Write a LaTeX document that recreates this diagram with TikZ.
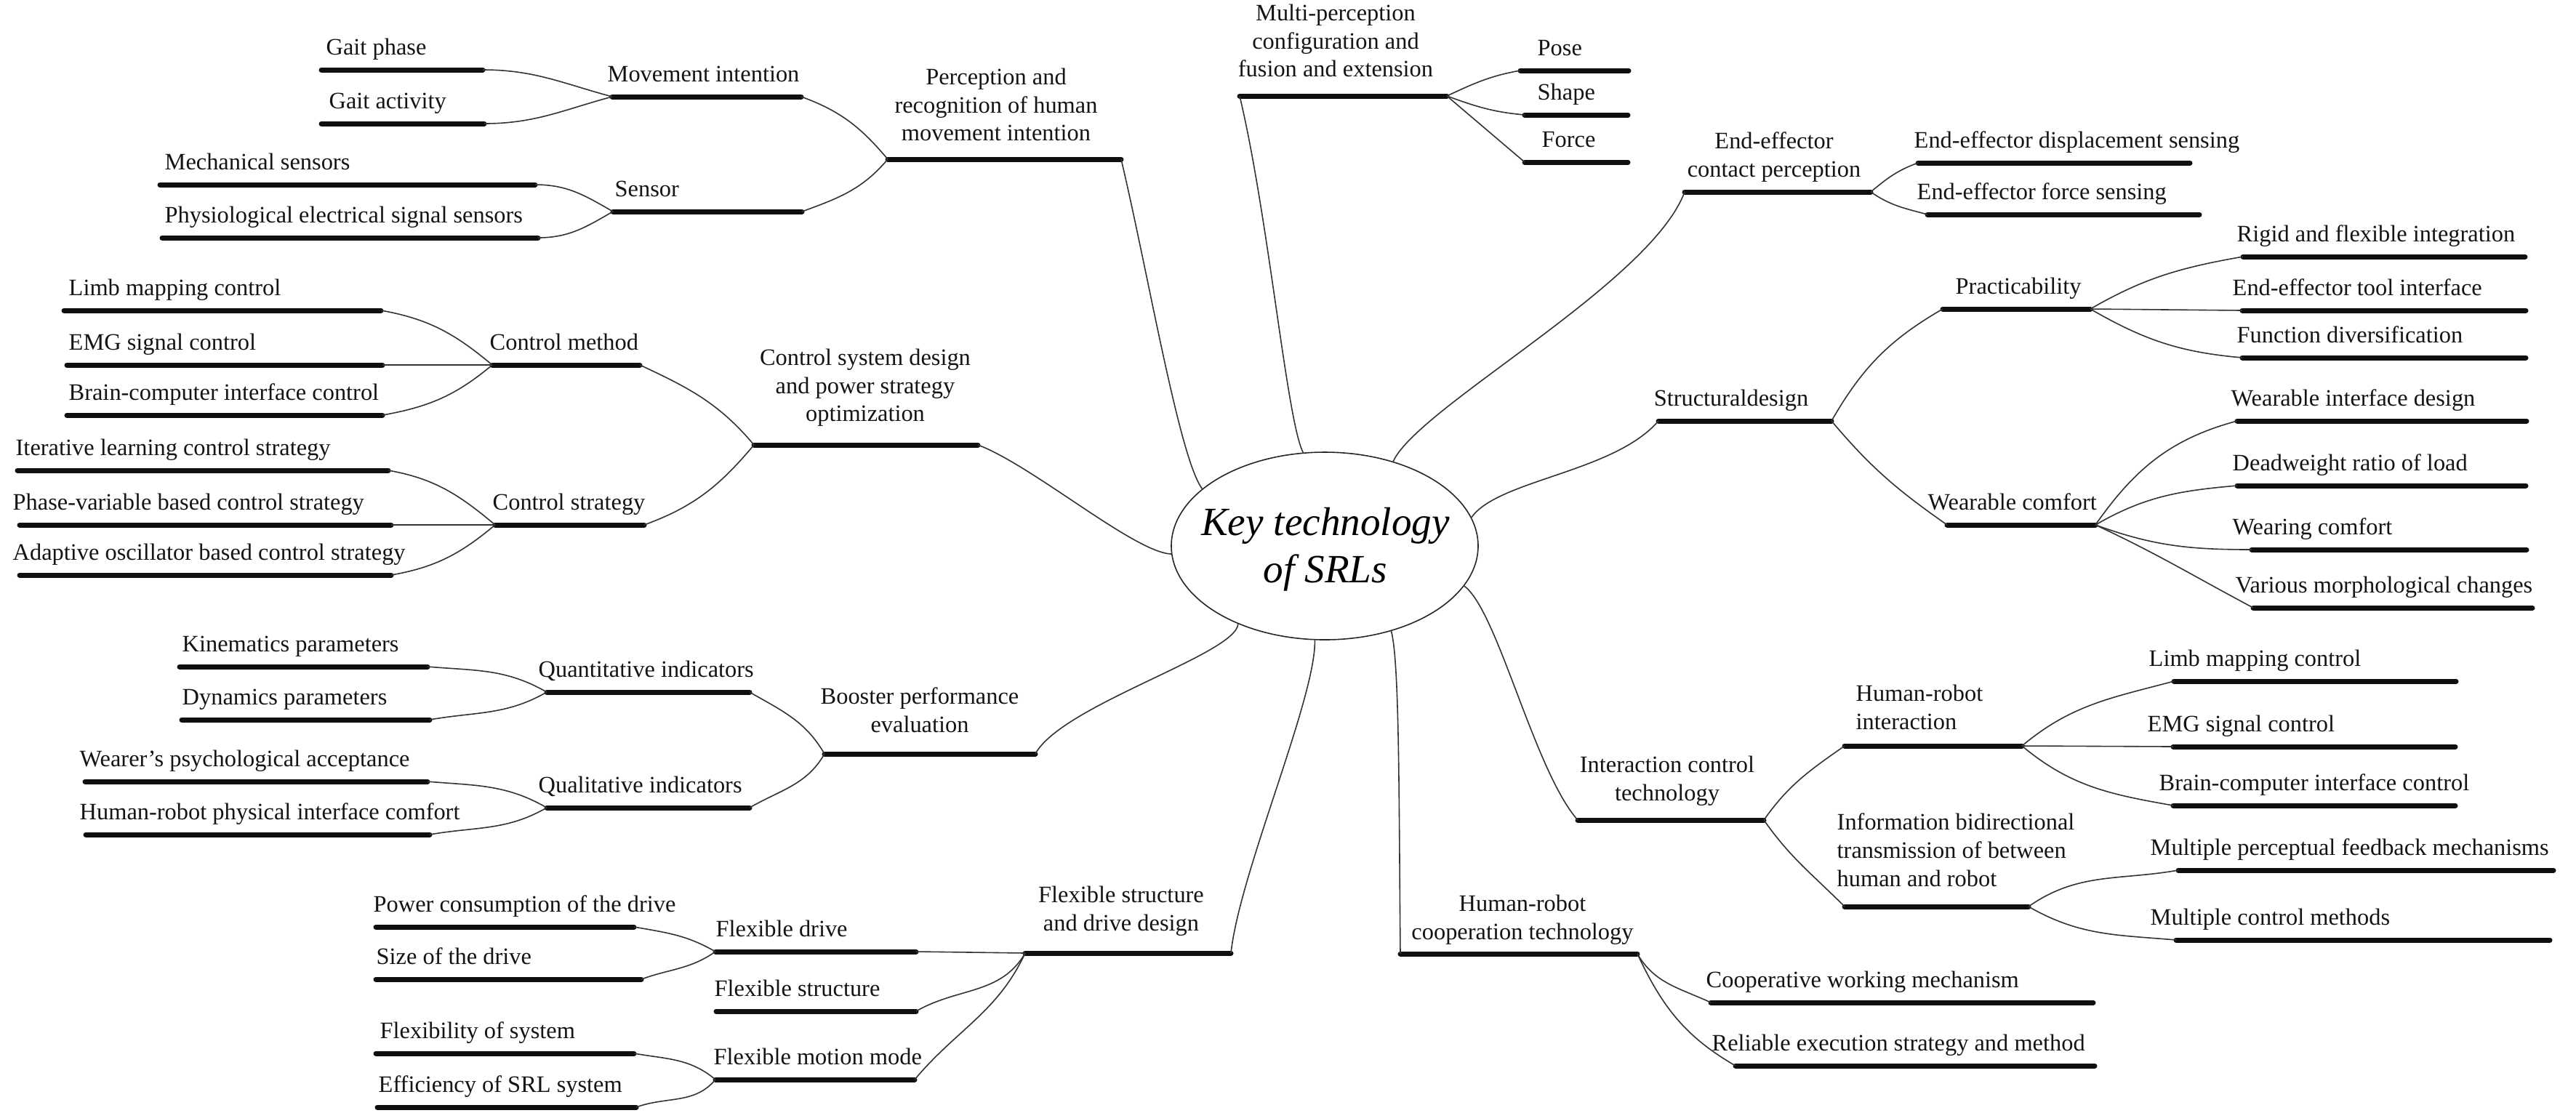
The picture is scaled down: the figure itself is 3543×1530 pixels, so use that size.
\documentclass[tikz,border=0pt]{standalone}
\usepackage{fontspec}
\setmainfont{Liberation Serif}
\usetikzlibrary{shapes.geometric}
\tikzset{
  barline/.style={line width=0.7mm, line cap=round, draw=black!94},
  conn/.style={line width=0.16mm, draw=black!80},
  lbl/.style={inner sep=0pt, font=\fontsize{9.22}{11.06}\selectfont, text=black!92},
  lblc/.style={lbl, align=center, anchor=north},
  lbll/.style={lbl, align=left, anchor=north west},
}
\newcommand\mybar[4]{\coordinate (#1-l) at (#2,-#4); \coordinate (#1-r) at (#3,-#4); \draw[barline] (#1-l) -- (#1-r);}
\newcommand\lab[4]{\node[lbl, anchor=base west] (#1) at (#2,-#3) {#4};}
\begin{document}
\begin{tikzpicture}[x=0.1mm,y=0.1mm]
\useasboundingbox (0,0) rectangle (3543,-1530);

% ---------- centre ----------
\node[draw=black!85, line width=0.16mm, ellipse, minimum width=42.2mm, minimum height=25.8mm, inner sep=0pt] (core) at (1822,-751) {};
\node[inner sep=0pt, align=center, font=\fontsize{15.7}{18.5}\selectfont\itshape] (coretext) at (1823,-756) {Key technology\\of SRLs};

% ---------- perception and recognition ----------
\mybar{gp}{442}{664}{96}     \lab{gpt}{448}{75}{Gait phase}
\mybar{ga}{442}{666}{170}    \lab{gat}{452}{149}{Gait activity}
\mybar{mi}{842}{1102}{133}   \lab{mit}{835}{112}{Movement intention}
\mybar{ms}{220}{736}{254}    \lab{mst}{226}{233}{Mechanical sensors}
\mybar{ps}{223}{740}{327}    \lab{pst}{226}{306}{Physiological electrical signal sensors}
\mybar{se}{843}{1103}{291}   \lab{set}{845}{270}{Sensor}
\mybar{pr}{1221}{1542}{219}
\node[lblc] (prt) at (1370,-93) {Perception and\\recognition of human\\movement intention};

% ---------- control system ----------
\mybar{lma}{88}{524}{427}    \lab{lmat}{94}{406}{Limb mapping control}
\mybar{ema}{92}{526}{502}    \lab{emat}{94}{481}{EMG signal control}
\mybar{bca}{92}{526}{571}    \lab{bcat}{94}{550}{Brain-computer interface control}
\mybar{cm}{677}{880}{502}    \lab{cmt}{673}{481}{Control method}
\mybar{il}{24}{534}{647}     \lab{ilt}{21}{626}{Iterative learning control strategy}
\mybar{pv}{27}{538}{722}     \lab{pvt}{17}{701}{Phase-variable based control strategy}
\mybar{ao}{27}{538}{791}     \lab{aot}{17}{770}{Adaptive oscillator based control strategy}
\mybar{cs}{681}{886}{722}    \lab{cst}{677}{701}{Control strategy}
\mybar{csd}{1037}{1345}{612}
\node[lblc] (csdt) at (1190,-479) {Control system design\\and power strategy\\optimization};

% ---------- multi-perception ----------
\mybar{mp}{1705}{1990}{132}
\node[lblc] (mpt) at (1837,-5) {Multi-perception\\configuration and\\fusion and extension};
\mybar{pose}{2091}{2240}{97}    \lab{poset}{2114}{76}{Pose}
\mybar{shape}{2097}{2239}{158}  \lab{shapet}{2114}{137}{Shape}
\mybar{force}{2097}{2239}{223}  \lab{forcet}{2120}{202}{Force}

% ---------- end-effector ----------
\mybar{ee}{2317}{2573}{264}
\node[lblc] (eet) at (2440,-181) {End-effector\\contact perception};
\mybar{eed}{2638}{3012}{224}  \lab{eedt}{2632}{203}{End-effector displacement sensing}
\mybar{eef}{2651}{3025}{295}  \lab{eeft}{2636}{274}{End-effector force sensing}

% ---------- structural design ----------
\mybar{sd}{2281}{2519}{579}
\node[lbl, anchor=base] (sdt) at (2381,-558) {Structuraldesign};
\mybar{pra}{2672}{2875}{425}  \lab{prat}{2689}{404}{Practicability}
\mybar{wc}{2678}{2882}{722}   \lab{wct}{2651}{701}{Wearable comfort}
\mybar{rfi}{3085}{3473}{353}  \lab{rfit}{3076}{332}{Rigid and flexible integration}
\mybar{eti}{3084}{3474}{427}  \lab{etit}{3070}{406}{End-effector tool interface}
\mybar{fdv}{3084}{3474}{492}  \lab{fdvt}{3076}{471}{Function diversification}
\mybar{wid}{3077}{3475}{579}  \lab{widt}{3068}{558}{Wearable interface design}
\mybar{drl}{3077}{3474}{668}  \lab{drlt}{3070}{647}{Deadweight ratio of load}
\mybar{wco}{3097}{3475}{756}  \lab{wcot}{3070}{735}{Wearing comfort}
\mybar{vmc}{3099}{3483}{836}  \lab{vmct}{3074}{815}{Various morphological changes}

% ---------- booster performance ----------
\mybar{kp}{247}{588}{917}     \lab{kpt}{250}{896}{Kinematics parameters}
\mybar{dp}{250}{591}{990}     \lab{dpt}{250}{969}{Dynamics parameters}
\mybar{qi}{752}{1031}{952}    \lab{qit}{740}{931}{Quantitative indicators}
\mybar{wpa}{117}{588}{1075}   \lab{wpat}{109}{1054}{Wearer’s psychological acceptance}
\mybar{hrp}{118}{591}{1148}   \lab{hrpt}{109}{1127}{Human-robot physical interface comfort}
\mybar{ql}{752}{1031}{1111}   \lab{qlt}{740}{1090}{Qualitative indicators}
\mybar{bpe}{1134}{1424}{1037}
\node[lblc] (bpet) at (1265,-945) {Booster performance\\evaluation};

% ---------- flexible structure ----------
\mybar{pcd}{517}{872}{1275}   \lab{pcdt}{513}{1254}{Power consumption of the drive}
\mybar{sod}{517}{882}{1347}   \lab{sodt}{517}{1326}{Size of the drive}
\mybar{fxd}{984}{1260}{1309}  \lab{fxdt}{984}{1288}{Flexible drive}
\mybar{fst}{985}{1260}{1391}  \lab{fstt}{982}{1370}{Flexible structure}
\mybar{fos}{517}{872}{1449}   \lab{fost}{522}{1428}{Flexibility of system}
\mybar{eos}{519}{875}{1523}   \lab{eost}{520}{1502}{Efficiency of SRL system}
\mybar{fmm}{984}{1258}{1485}  \lab{fmmt}{981}{1464}{Flexible motion mode}
\mybar{fsd}{1410}{1693}{1311}
\node[lblc] (fsdt) at (1542,-1218) {Flexible structure\\and drive design};

% ---------- interaction control ----------
\mybar{ict}{2170}{2426}{1128}
\node[lblc] (ictt) at (2293,-1039) {Interaction control\\technology};
\mybar{hri}{2537}{2781}{1026}
\node[lbll] (hrit) at (2552,-941) {Human-robot\\interaction};
\mybar{ibt}{2537}{2790}{1247}
\node[lbll] (ibtt) at (2526,-1118) {Information bidirectional\\transmission of between\\human and robot};
\mybar{lmb}{2990}{3378}{937}   \lab{lmbt}{2955}{916}{Limb mapping control}
\mybar{emb}{2989}{3377}{1027}  \lab{embt}{2953}{1006}{EMG signal control}
\mybar{bcb}{2989}{3377}{1108}  \lab{bcbt}{2969}{1087}{Brain-computer interface control}
\mybar{mpf}{2996}{3512}{1197}  \lab{mpft}{2957}{1176}{Multiple perceptual feedback mechanisms}
\mybar{mcm}{2993}{3507}{1293}  \lab{mcmt}{2957}{1272}{Multiple control methods}

% ---------- cooperation ----------
\mybar{hrc}{1926}{2252}{1312}
\node[lblc] (hrct) at (2094,-1230) {Human-robot\\cooperation technology};
\mybar{cwm}{2353}{2879}{1379}  \lab{cwmt}{2346}{1358}{Cooperative working mechanism}
\mybar{res}{2387}{2881}{1466}  \lab{rest}{2354}{1445}{Reliable execution strategy and method}

% ---------- connectors: leaves ----------
\draw[conn] (gp-r) to[out=0,in=165] (mi-l);
\draw[conn] (ga-r) to[out=0,in=195] (mi-l);
\draw[conn] (ms-r) to[out=0,in=150] (se-l);
\draw[conn] (ps-r) to[out=0,in=210] (se-l);
\draw[conn] (mi-r) to[out=-20,in=130] (pr-l);
\draw[conn] (se-r) to[out=20,in=230] (pr-l);

\draw[conn] (lma-r) to[out=-10,in=140] (cm-l);
\draw[conn] (ema-r) -- (cm-l);
\draw[conn] (bca-r) to[out=10,in=220] (cm-l);
\draw[conn] (il-r) to[out=-10,in=140] (cs-l);
\draw[conn] (pv-r) -- (cs-l);
\draw[conn] (ao-r) to[out=10,in=220] (cs-l);
\draw[conn] (cm-r) to[out=-25,in=130] (csd-l);
\draw[conn] (cs-r) to[out=20,in=230] (csd-l);

\draw[conn] (mp-r) to[out=25,in=190] (pose-l);
\draw[conn] (mp-r) to[out=-20,in=175] (shape-l);
\draw[conn] (mp-r) -- (force-l);

\draw[conn] (ee-r) to[out=40,in=200] (eed-l);
\draw[conn] (ee-r) to[out=-35,in=165] (eef-l);

\draw[conn] (sd-r) to[out=60,in=210] (pra-l);
\draw[conn] (sd-r) to[out=-50,in=145] (wc-l);
\draw[conn] (pra-r) to[out=30,in=190] (rfi-l);
\draw[conn] (pra-r) -- (eti-l);
\draw[conn] (pra-r) to[out=-30,in=175] (fdv-l);
\draw[conn] (wc-r) to[out=55,in=195] (wid-l);
\draw[conn] (wc-r) to[out=30,in=185] (drl-l);
\draw[conn] (wc-r) to[out=-20,in=180] (wco-l);
\draw[conn] (wc-r) to[out=-25,in=152] (vmc-l);

\draw[conn] (kp-r) to[out=-5,in=150] (qi-l);
\draw[conn] (dp-r) to[out=10,in=210] (qi-l);
\draw[conn] (wpa-r) to[out=-5,in=150] (ql-l);
\draw[conn] (hrp-r) to[out=10,in=210] (ql-l);
\draw[conn] (qi-r) to[out=-30,in=120] (bpe-l);
\draw[conn] (ql-r) to[out=30,in=240] (bpe-l);

\draw[conn] (pcd-r) to[out=-10,in=150] (fxd-l);
\draw[conn] (sod-r) to[out=20,in=215] (fxd-l);
\draw[conn] (fos-r) to[out=-10,in=140] (fmm-l);
\draw[conn] (eos-r) to[out=20,in=230] (fmm-l);
\draw[conn] (fxd-r) -- (fsd-l);
\draw[conn] (fst-r) to[out=30,in=240] (fsd-l);
\draw[conn] (fmm-r) to[out=50,in=245] (fsd-l);

\draw[conn] (ict-r) to[out=55,in=215] (hri-l);
\draw[conn] (ict-r) to[out=-55,in=135] (ibt-l);
\draw[conn] (hri-r) to[out=40,in=195] (lmb-l);
\draw[conn] (hri-r) -- (emb-l);
\draw[conn] (hri-r) to[out=-40,in=170] (bcb-l);
\draw[conn] (ibt-r) to[out=35,in=190] (mpf-l);
\draw[conn] (ibt-r) to[out=-30,in=175] (mcm-l);
\draw[conn] (hrc-r) to[out=-60,in=155] (cwm-l);
\draw[conn] (hrc-r) to[out=-65,in=150] (res-l);

% ---------- connectors: centre ----------
\draw[conn] (pr-r) .. controls (1580,-380) and (1622,-630) .. (core.155);
\draw[conn] (mp-l) .. controls (1745,-300) and (1770,-580) .. (core.103);
\draw[conn] (ee-l) .. controls (2270,-390) and (1950,-560) .. (core.51);
\draw[conn] (sd-l) .. controls (2220,-650) and (2060,-660) .. (core.11);
\draw[conn] (csd-r) .. controls (1420,-640) and (1560,-760) .. (core.183);
\draw[conn] (bpe-r) .. controls (1460,-970) and (1700,-900) .. (core.222);
\draw[conn] (fsd-r) .. controls (1705,-1200) and (1810,-960) .. (core.264);
\draw[conn] (core.308) .. controls (1925,-910) and (1924,-1100) .. (hrc-l);
\draw[conn] (core.344) .. controls (2060,-840) and (2110,-1060) .. (ict-l);
\end{tikzpicture}
\end{document}
